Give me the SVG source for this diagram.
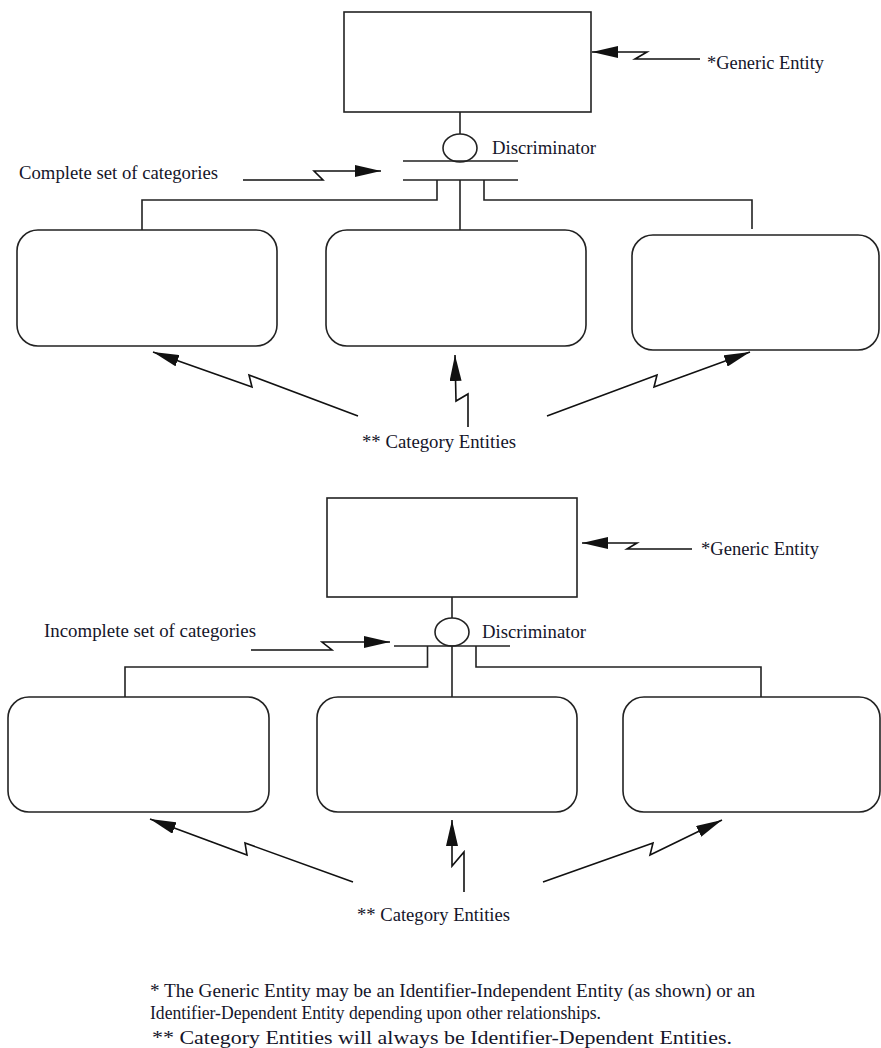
<svg xmlns="http://www.w3.org/2000/svg" width="881" height="1048" viewBox="0 0 881 1048">
<defs>
<style>
.box{fill:#fff;stroke:#222;stroke-width:1.6}
.ln{fill:none;stroke:#222;stroke-width:1.6}
.ar{fill:none;stroke:#111;stroke-width:1.6;marker-end:url(#head)}
.t{font-family:"Liberation Serif","Times New Roman",serif;font-size:19px;fill:#15152a}
</style>
<marker id="head" markerUnits="userSpaceOnUse" viewBox="0 0 26 12" refX="26" refY="6" markerWidth="26" markerHeight="12" orient="auto">
<path d="M0,0 L26,6 L0,12 z" fill="#111"/>
</marker>
</defs>
<rect width="881" height="1048" fill="#fff"/>

<!-- Top: complete set -->
<g id="generic-entity-1"><rect class="box" x="344" y="12" width="247" height="100"/></g>
<g id="discriminator-1"><ellipse class="box" cx="460" cy="148" rx="17" ry="14"/></g>
<g id="category-1a"><rect class="box" x="17" y="230" width="260" height="116" rx="21" ry="21"/></g>
<g id="category-1b"><rect class="box" x="326" y="230" width="260" height="116" rx="21" ry="21"/></g>
<g id="category-1c"><rect class="box" x="632" y="235" width="247" height="115" rx="21" ry="21"/></g>

<!-- Bottom: incomplete set -->
<g id="generic-entity-2"><rect class="box" x="327" y="498" width="250" height="99"/></g>
<g id="discriminator-2"><ellipse class="box" cx="452" cy="632" rx="17" ry="14"/></g>
<g id="category-2a"><rect class="box" x="8" y="697" width="261" height="115" rx="21" ry="21"/></g>
<g id="category-2b"><rect class="box" x="317" y="697" width="260" height="115" rx="21" ry="21"/></g>
<g id="category-2c"><rect class="box" x="623" y="697" width="257" height="115" rx="21" ry="21"/></g>

<g id="connectors">
<!-- top structure -->
<path class="ln" d="M460,112 V134"/>
<path class="ln" d="M403,161 H518 M403,180 H518"/>
<path class="ln" d="M437,180 V200 H142 V230"/>
<path class="ln" d="M460,180 V230"/>
<path class="ln" d="M484,180 V200 H752 V229"/>
<!-- bottom structure -->
<path class="ln" d="M452,597 V618"/>
<path class="ln" d="M394,646 H510"/>
<path class="ln" d="M427.5,646 V667 H125 V697"/>
<path class="ln" d="M452,646 V697"/>
<path class="ln" d="M476,646 V667 H761 V697"/>
<!-- lightning arrows top -->
<path class="ar" d="M700,59 L635,59 L647,52 L592,52"/>
<path class="ar" d="M243,180 L323,180 L314,171 L381,171"/>
<path class="ar" d="M358,416 L249,375 L252,387 L153,352"/>
<path class="ar" d="M468,427 L468,394 L456,401 L455,355"/>
<path class="ar" d="M547,416 L657,375 L654,387 L750,352"/>
<!-- lightning arrows bottom -->
<path class="ar" d="M692,549 L627,549 L637,543 L582,543"/>
<path class="ar" d="M251,650 L332,650 L322,642 L390,642"/>
<path class="ar" d="M353,882 L245,843 L247,855 L150,819"/>
<path class="ar" d="M464,892 L464,852 L452,866 L452,820"/>
<path class="ar" d="M543,882 L653,843 L650,855 L722,820"/>
</g>

<g id="labels">
<text class="t" x="707" y="69" textLength="117" lengthAdjust="spacingAndGlyphs">*Generic Entity</text>
<text class="t" x="492" y="154" textLength="104" lengthAdjust="spacingAndGlyphs">Discriminator</text>
<text class="t" x="19" y="179" textLength="199" lengthAdjust="spacingAndGlyphs">Complete set of categories</text>
<text class="t" x="362" y="448" textLength="154" lengthAdjust="spacingAndGlyphs">** Category Entities</text>
<text class="t" x="701" y="555" textLength="118" lengthAdjust="spacingAndGlyphs">*Generic Entity</text>
<text class="t" x="482" y="638" textLength="104" lengthAdjust="spacingAndGlyphs">Discriminator</text>
<text class="t" x="44" y="637" textLength="212" lengthAdjust="spacingAndGlyphs">Incomplete set of categories</text>
<text class="t" x="357" y="921" textLength="153" lengthAdjust="spacingAndGlyphs">** Category Entities</text>
<text class="t" x="150" y="997" textLength="605" lengthAdjust="spacingAndGlyphs">* The Generic Entity may be an Identifier-Independent Entity (as shown) or an</text>
<text class="t" x="150" y="1019" textLength="451" lengthAdjust="spacingAndGlyphs">Identifier-Dependent Entity depending upon other relationships.</text>
<text class="t" x="152" y="1044" textLength="580" lengthAdjust="spacingAndGlyphs">** Category Entities will always be Identifier-Dependent Entities.</text>
</g>
</svg>
